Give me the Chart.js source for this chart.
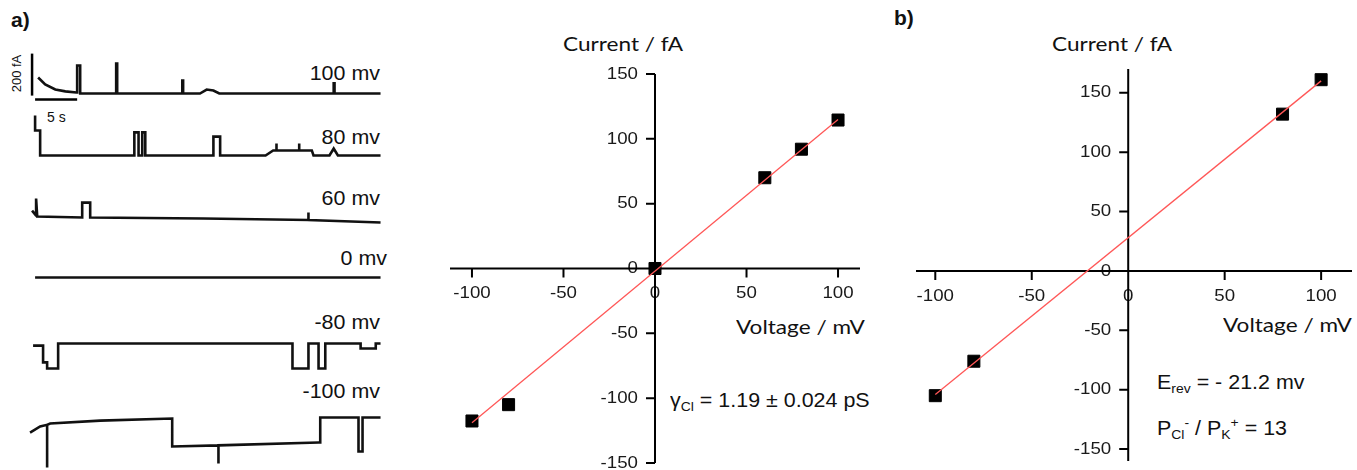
<!DOCTYPE html>
<html>
<head>
<meta charset="utf-8">
<script src="https://cdn.jsdelivr.net/npm/chart.js@4.4.1/dist/chart.umd.min.js"></script>
<style>
  html, body { margin: 0; padding: 0; background: #fff; overflow: hidden; }
  #page { position: relative; width: 1357px; height: 470px; }
  canvas { position: absolute; }
  .txt { position: absolute; font-family: 'Liberation Sans', Arial, sans-serif; color: #111; white-space: nowrap; transform-origin: left center; }
  .trace-lbl { font-size: 19.5px; width: 120px; text-align: right; line-height: 24px; transform: scaleX(1.1); transform-origin: right center; }
  .ttl { font-family: Lato, 'Open Sans', sans-serif; font-size: 20px; line-height: 24px; transform: scaleX(1.13); }
  .panel { font-weight: bold; font-size: 21px; }
  .note { font-size: 19.5px; line-height: 24px; transform: scaleX(1.1); }
  sub { font-size: 0.65em; vertical-align: -0.35em; }
  sup { font-size: 0.65em; vertical-align: 0.6em; }
</style>
</head>
<body>
<div id="page">
  <div class="txt panel" style="left:11px;top:8px;">a)</div>
  <div class="txt panel" style="left:894px;top:6px;">b)</div>

  <div class="txt" style="left:-2px;top:66px;font-size:13px;transform:rotate(-90deg);transform-origin:center;">200 fA</div>
  <div class="txt" style="left:47px;top:109px;font-size:14px;">5 s</div>

  <div class="txt trace-lbl" style="left:260px;top:61px;">100 mv</div>
  <div class="txt trace-lbl" style="left:260px;top:125px;">80 mv</div>
  <div class="txt trace-lbl" style="left:260px;top:186px;">60 mv</div>
  <div class="txt trace-lbl" style="left:267px;top:246px;">0 mv</div>
  <div class="txt trace-lbl" style="left:260px;top:310px;">-80 mv</div>
  <div class="txt trace-lbl" style="left:260px;top:379px;">-100 mv</div>

  <div class="txt ttl" style="left:563px;top:31px;">Current / fA</div>
  <div class="txt ttl" style="left:736px;top:314px;">Voltage / mV</div>
  <div class="txt note" style="left:670px;top:388px;">&gamma;<sub>Cl</sub> = 1.19 &plusmn; 0.024 pS</div>

  <div class="txt ttl" style="left:1052px;top:31px;">Current / fA</div>
  <div class="txt ttl" style="left:1223px;top:312px;">Voltage / mV</div>
  <div class="txt note" style="left:1157px;top:370px;">E<sub>rev</sub> = - 21.2 mv</div>
  <div class="txt note" style="left:1157px;top:411px;">P<sub>Cl</sub><sup>-</sup> / P<sub>K</sub><sup>+</sup> = 13</div>

  <canvas id="tr0" width="360" height="105" style="left:25px;top:41px;"></canvas>
  <canvas id="tr1" width="360" height="105" style="left:25px;top:103px;"></canvas>
  <canvas id="tr2" width="360" height="105" style="left:25px;top:165px;"></canvas>
  <canvas id="tr3" width="360" height="105" style="left:25px;top:225px;"></canvas>
  <canvas id="tr4" width="360" height="105" style="left:25px;top:291px;"></canvas>
  <canvas id="tr5" width="360" height="105" style="left:25px;top:366px;"></canvas>

  <canvas id="ivA" width="434" height="413" style="left:438px;top:62px;"></canvas>
  <canvas id="ivB" width="460" height="416" style="left:904px;top:57px;"></canvas>
</div>

<script>
// --- panel a: single channel recordings (time in s, current in fA vs. closed level)
const t100 = [0.36, 1.2, 2.4, 3.6, 4.9, 5.0, 5.0, 5.36, 5.36, 9.64, 9.64, 9.76, 9.76, 17.5, 17.5, 17.6, 17.6, 19.6, 20.4, 21.2, 21.9, 35.5, 35.5, 35.6, 35.6, 41.07];
const i100 = [76, 43, 19, 10, 5, 5, 133, 133, 0, 0, 143, 143, 0, 0, 62, 62, 0, 0, 19, 14, 0, 0, 48, 48, 0, 0];

const t80 = [0, 0, 0.6, 0.6, 11.8, 11.8, 12.3, 12.3, 12.74, 12.74, 13.1, 13.1, 21.2, 21.2, 22.0, 22.0, 27.4, 28.3, 28.7, 28.7, 28.7, 31.4, 31.4, 31.4, 32.9, 33.1, 35.0, 35.5, 36.0, 41.07];
const i80 = [190, 119, 119, 0, 0, 110, 110, 0, 0, 110, 110, 0, 0, 90, 90, 0, 0, 24, 24, 57, 24, 24, 57, 24, 24, 0, 0, 33, 0, 0];

const t60 = [-0.36, 0.1, 0.12, 0.12, 0.25, 5.6, 5.6, 6.55, 6.55, 20.0, 32.5, 32.5, 32.5, 41.07];
const i60 = [33, 10, 10, 90, 5, 0, 71, 71, 0, -5, -12, 24, -12, -24];

const t0 = [0, 41.07];
const i0 = [0, 0];

const tm80 = [-0.24, 0.95, 0.95, 1.43, 1.43, 2.74, 2.74, 30.6, 30.6, 32.5, 32.5, 33.7, 33.7, 34.5, 34.5, 38.7, 38.7, 40.5, 40.5, 41.07];
const im80 = [-10, -10, -90, -90, -119, -119, 0, 0, -119, -119, 0, 0, -119, -119, 0, 0, -24, -24, 0, 0];

const tm100 = [-0.6, 0.6, 1.43, 1.43, 1.43, 1.79, 7.74, 16.3, 16.3, 21.8, 21.8, 21.8, 33.7, 33.9, 33.9, 38.45, 38.45, 38.93, 38.93, 41.07];
const im100 = [-67, -38, -30, -233, -30, -24, -10, 0, -133, -128, -214, -128, -114, -114, 5, 5, -157, -157, 5, 5];

// scale bars: 200 fA and 5 s
const barVt = [-0.36, -0.36], barVi = [-10, 190];
const barHt = [0, 5], barHi = [-29, -29];

// --- I-V, panel a (symmetric) and b (asymmetric)
const voltsA = [-100, -80, 0, 60, 80, 100];
const currA = [-117.6, -105, 0, 70, 92, 114.5];
const fitVA = [-100, 100];
const fitIA = [-119, 115];

const voltsB = [-100, -80, 80, 100];
const currB = [-105, -76, 132, 161];
const fitVB = [-100, 100];
const fitIB = [-104, 160];

const voltTicks = [-100, -50, 0, 50, 100];
const currTicks = [-150, -100, -50, 0, 50, 100, 150];

const pts = (xs, ys) => xs.map((x, k) => ({ x: x, y: ys[k] }));

Chart.defaults.font.family = "'Liberation Sans', Arial, sans-serif";
Chart.defaults.color = '#1a1a1a';
Chart.defaults.animation = false;

const traces = [
  [t100, i100], [t80, i80], [t60, i60], [t0, i0], [tm80, im80], [tm100, im100]
];

traces.forEach((tr, k) => {
  const sets = [{
    data: pts(tr[0], tr[1]),
    borderColor: '#111',
    borderWidth: 2.6,
    pointRadius: 0,
    tension: 0
  }];
  if (k === 0) {
    sets.push({ data: pts(barVt, barVi), borderColor: '#000', borderWidth: 2.5, pointRadius: 0 });
    sets.push({ data: pts(barHt, barHi), borderColor: '#000', borderWidth: 2.5, pointRadius: 0 });
  }
  new Chart(document.getElementById('tr' + k), {
    type: 'line',
    data: { datasets: sets },
    options: {
      responsive: false,
      layout: { padding: 0 },
      plugins: { legend: { display: false }, tooltip: { enabled: false } },
      scales: {
        x: { type: 'linear', min: -1.2, max: 41.6, display: false },
        y: { min: -250, max: 250, display: false }
      }
    }
  });
});

// axes crossing at the origin, drawn from the chart's own scales
const crossAxes = {
  id: 'crossAxes',
  beforeDatasetsDraw(chart, args, opts) {
    const { ctx, scales: { x, y } } = chart;
    const x0 = x.getPixelForValue(0), y0 = y.getPixelForValue(0);
    ctx.save();
    ctx.fillStyle = '#1a1a1a';
    ctx.font = '17px "Liberation Sans", Arial, sans-serif';
    const label = (txt, px, py, align) => {
      ctx.save();
      ctx.translate(px, py);
      ctx.scale(1.1, 1);
      ctx.textAlign = align;
      ctx.textBaseline = 'middle';
      ctx.fillText(txt, 0, 0);
      ctx.restore();
    };
    opts.xTicks.forEach(v => label(String(v), x.getPixelForValue(v), y0 + 25, 'center'));
    opts.yTicks.forEach(v => label(String(v), x0 - 17, y.getPixelForValue(v), 'right'));

    ctx.strokeStyle = '#000';
    ctx.lineWidth = 2;
    ctx.beginPath();
    ctx.moveTo(x.left, y0); ctx.lineTo(x.right, y0);
    ctx.moveTo(x0, y.top); ctx.lineTo(x0, y.bottom);
    opts.xTicks.forEach(v => {
      const px = x.getPixelForValue(v);
      ctx.moveTo(px, y0); ctx.lineTo(px, y0 + 9);
    });
    opts.yTicks.forEach(v => {
      const py = y.getPixelForValue(v);
      ctx.moveTo(x0 - 9, py); ctx.lineTo(x0, py);
    });
    ctx.stroke();
    ctx.restore();
  }
};

function ivChart(id, vx, vy, fx, fy, xr, yr) {
  return new Chart(document.getElementById(id), {
    type: 'scatter',
    data: {
      datasets: [{
        data: pts(fx, fy),
        showLine: true,
        borderColor: '#ff5757',
        borderWidth: 1.3,
        pointRadius: 0
      }, {
        data: pts(vx, vy),
        pointStyle: 'rect',
        pointRadius: 8.5,
        backgroundColor: '#000',
        borderColor: '#000',
        borderWidth: 1
      }]
    },
    plugins: [crossAxes],
    options: {
      responsive: false,
      layout: { padding: 12 },
      plugins: {
        legend: { display: false },
        tooltip: { enabled: false },
        crossAxes: { xTicks: voltTicks, yTicks: currTicks }
      },
      scales: {
        x: { type: 'linear', min: xr[0], max: xr[1], display: false },
        y: { type: 'linear', min: yr[0], max: yr[1], display: false }
      }
    }
  });
}

ivChart('ivA', voltsA, currA, fitVA, fitIA, [-112, 112], [-150, 150]);
ivChart('ivB', voltsB, currB, fitVB, fitIB, [-110, 116], [-160, 170]);
</script>
</body>
</html>
